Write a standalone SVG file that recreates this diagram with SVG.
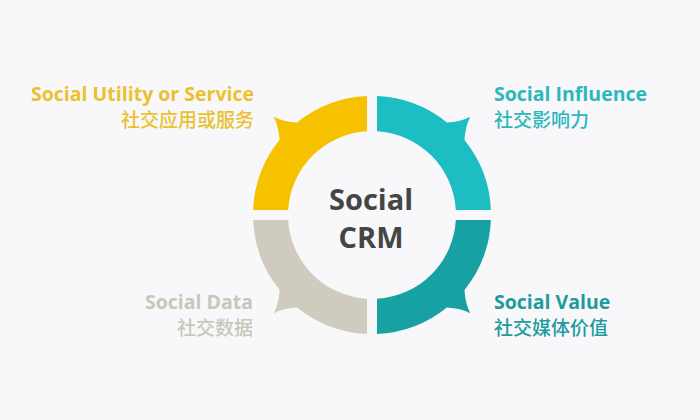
<svg xmlns="http://www.w3.org/2000/svg" width="700" height="420" viewBox="0 0 700 420">
<defs>
<style>
.en{font-family:"Open Sans","Liberation Sans",sans-serif;font-weight:700;font-size:19.5px}
.zh{font-family:"Noto Sans CJK SC","Noto Sans",sans-serif;font-weight:500;font-size:19px}
.ctr{font-family:"Open Sans","Liberation Sans",sans-serif;font-weight:700;font-size:29px;fill:#454545;text-anchor:middle}
</style>
<path id="seg" d="M -118.9,-5 A119,119 0 0 1 -92.48,-74.89 Q -93.26,-88.71 -98.29,-98.29 Q -88.71,-93.26 -74.89,-92.48 A119,119 0 0 1 -5,-118.9 L -5,-83.85 A84,84 0 0 0 -83.85,-5 Z"/>
</defs>
<rect width="700" height="420" fill="#f8f8fa"/>
<g id="ring" transform="translate(372,215)">
<g id="n-utility"><use href="#seg" fill="#f6c200"/></g>
<g id="n-influence"><use href="#seg" fill="#1cbec4" transform="rotate(90)"/></g>
<g id="n-value"><use href="#seg" fill="#17a1a3" transform="rotate(180)"/></g>
<g id="n-data"><use href="#seg" fill="#cfccbf" transform="rotate(270)"/></g>
</g>
<g id="center">
<text class="ctr" x="371" y="210">Social</text>
<text class="ctr" x="371" y="248">CRM</text>
</g>
<g id="label-utility" fill="#eac12e" text-anchor="end">
<text class="en" x="254" y="101">Social Utility or Service</text>
<text class="zh" x="254" y="127">社交应用或服务</text>
</g>
<g id="label-influence" fill="#2bb7bb">
<text class="en" x="494" y="101">Social Influence</text>
<text class="zh" x="494" y="127">社交影响力</text>
</g>
<g id="label-data" fill="#c9c6ba" text-anchor="end">
<text class="en" x="253" y="309">Social Data</text>
<text class="zh" x="253" y="335">社交数据</text>
</g>
<g id="label-value" fill="#1d9c9d">
<text class="en" x="494" y="309">Social Value</text>
<text class="zh" x="494" y="335">社交媒体价值</text>
</g>
<g id="connectors"></g>
</svg>
